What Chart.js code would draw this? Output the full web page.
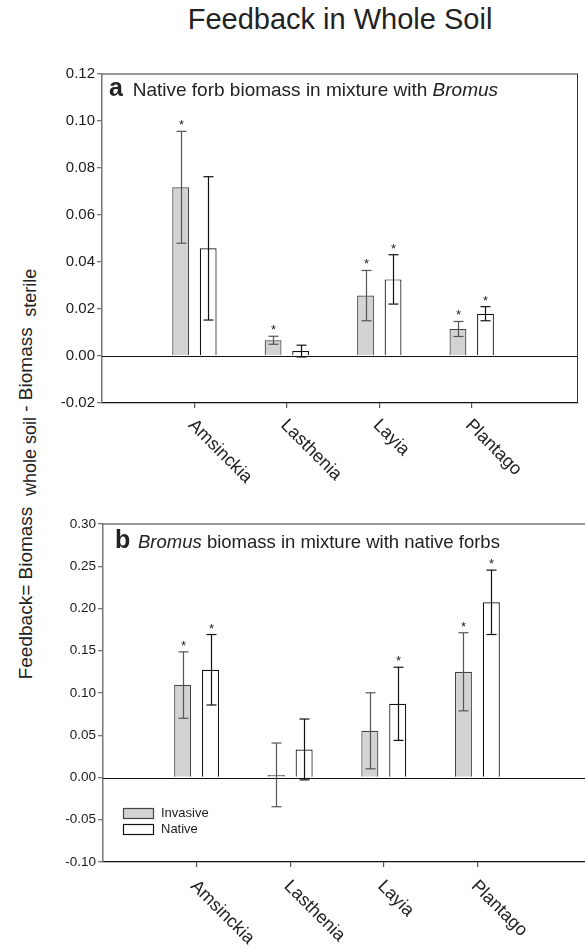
<!DOCTYPE html>
<html>
<head>
<meta charset="utf-8">
<script src="https://cdn.jsdelivr.net/npm/chart.js@4.4.0/dist/chart.umd.min.js"></script>
<style>
  html, body { margin: 0; padding: 0; background: #fff; overflow: hidden; }
  body { width: 585px; height: 949px; position: relative; font-family: "Liberation Sans", Arial, sans-serif; color: #222; }
  #title { position: absolute; left: 140px; width: 400px; top: 3px; text-align: center; font-size: 29px; white-space: nowrap; }
  #ytitle { position: absolute; left: -224px; top: 462px; width: 500px; height: 24px; line-height: 24px;
            text-align: center; font-size: 19px; white-space: nowrap; transform: rotate(-90deg); }
  #ytitle span { position: relative; top: 4px; font-size: 18px; }
  .panel { position: absolute; left: 0; }
</style>
</head>
<body>
<div id="title">Feedback in Whole Soil</div>
<div id="ytitle">Feedback= Biomass&nbsp;&nbsp;<span>whole soil</span> - Biomass&nbsp;&nbsp;<span>sterile</span></div>
<canvas id="panelA" class="panel" style="top:0" width="585" height="500"></canvas>
<canvas id="panelB" class="panel" style="top:500px" width="585" height="449"></canvas>
<script>
// plant species on the x axis
const categories = ['Amsinckia', 'Lasthenia', 'Layia', 'Plantago'];

// panel a: native forb biomass in mixture with Bromus
const forbInvasive = [0.0718, 0.0067, 0.0257, 0.0115];
const forbInvasiveErr = [0.0238, 0.0017, 0.0107, 0.0032];
const forbInvasiveSig = [true, true, true, true];
const forbNative = [0.0458, 0.0021, 0.0326, 0.0180];
const forbNativeErr = [0.0305, 0.0025, 0.0105, 0.0030];
const forbNativeSig = [false, false, true, true];
const forbTicks = [-0.02, 0.00, 0.02, 0.04, 0.06, 0.08, 0.10, 0.12];

// panel b: Bromus biomass in mixture with native forbs
const bromusInvasive = [0.1094, 0.0031, 0.0553, 0.1251];
const bromusInvasiveErr = [0.0393, 0.0377, 0.0450, 0.0462];
const bromusInvasiveSig = [true, false, false, true];
const bromusNative = [0.1275, 0.0332, 0.0872, 0.2073];
const bromusNativeErr = [0.0417, 0.0360, 0.0433, 0.0381];
const bromusNativeSig = [true, false, true, true];
const bromusTicks = [-0.10, -0.05, 0.00, 0.05, 0.10, 0.15, 0.20, 0.25, 0.30];

Chart.defaults.font.family = '"Liberation Sans", Arial, sans-serif';
Chart.defaults.color = '#222';

function strokeLine(ctx, x1, y1, x2, y2) {
  ctx.beginPath();
  ctx.moveTo(x1, y1);
  ctx.lineTo(x2, y2);
  ctx.stroke();
}

// zero line, frame, error bars, stars, rotated labels, panel caption, legend
const panelDecor = {
  id: 'panelDecor',
  afterDatasetsDraw(chart, args, opts) {
    const { ctx, chartArea: a, scales: { y } } = chart;
    ctx.save();
    const y0 = Math.round(y.getPixelForValue(0)) + 0.5;
    ctx.strokeStyle = '#111';
    ctx.lineWidth = 1.2;
    strokeLine(ctx, a.left, y0, a.right, y0);

    ctx.strokeStyle = '#777';
    ctx.lineWidth = 1.5;
    strokeLine(ctx, a.left, a.top, a.right, a.top);
    if (opts.rightBorder) {
      ctx.strokeStyle = '#333';
      ctx.lineWidth = 1;
      strokeLine(ctx, a.right - 0.5, a.top, a.right - 0.5, a.bottom);
    }

    chart.data.datasets.forEach((ds, di) => {
      const meta = chart.getDatasetMeta(di);
      meta.data.forEach((bar, i) => {
        const v = ds.data[i].y;
        const e = ds.errors[i];
        const cx = Math.round(bar.x) + 0.5;
        const yt = y.getPixelForValue(v + e);
        const yb = y.getPixelForValue(v - e);
        ctx.strokeStyle = ds.errColor;
        ctx.lineWidth = 1.2;
        strokeLine(ctx, cx, yt, cx, yb);
        strokeLine(ctx, cx - 5, yt, cx + 5, yt);
        strokeLine(ctx, cx - 5, yb, cx + 5, yb);
        if (ds.sig[i]) {
          ctx.fillStyle = '#222';
          ctx.font = '13px "Liberation Sans", Arial, sans-serif';
          ctx.textAlign = 'center';
          ctx.textBaseline = 'alphabetic';
          ctx.fillText('*', cx, yt - 2);
        }
      });
    });
    ctx.restore();
  },
  afterDraw(chart, args, opts) {
    const { ctx, chartArea: a, scales: { x } } = chart;
    ctx.save();
    ctx.fillStyle = '#222';

    // category labels, running down to the right
    ctx.font = opts.labelSize + 'px "Liberation Sans", Arial, sans-serif';
    ctx.textAlign = 'left';
    ctx.textBaseline = 'top';
    categories.forEach((c, i) => {
      ctx.save();
      ctx.translate(x.getPixelForValue(i + 1) + 3, a.bottom + opts.labelDy);
      ctx.rotate(45 * Math.PI / 180);
      ctx.fillText(c, 0, 0);
      ctx.restore();
    });

    // panel caption
    ctx.textBaseline = 'alphabetic';
    ctx.font = 'bold 25px "Liberation Sans", Arial, sans-serif';
    ctx.fillText(opts.letter, a.left + opts.capDx, a.top + opts.capDy);
    let cx = a.left + opts.textDx;
    opts.caption.forEach(seg => {
      ctx.font = (seg.italic ? 'italic ' : '') + opts.capSize + 'px "Liberation Sans", Arial, sans-serif';
      ctx.fillText(seg.text, cx, a.top + opts.capDy);
      cx += ctx.measureText(seg.text).width;
    });

    // legend
    if (opts.legend) {
      ctx.font = '13px "Liberation Sans", Arial, sans-serif';
      ctx.textBaseline = 'middle';
      chart.data.datasets.forEach((ds, di) => {
        const bx = a.left + 20;
        const by = a.bottom - 54 + di * 16;
        ctx.fillStyle = ds.backgroundColor;
        ctx.fillRect(bx, by, 30, 10);
        ctx.strokeStyle = ds.borderColor;
        ctx.lineWidth = 1.2;
        ctx.strokeRect(bx + 0.5, by + 0.5, 30, 10);
        ctx.fillStyle = '#222';
        ctx.fillText(ds.label, bx + 38, by + 5.5);
      });
    }
    ctx.restore();
  }
};

function makePanel(el, p) {
  const toPoints = arr => arr.map((v, i) => ({ x: i + 1, y: v }));
  return new Chart(document.getElementById(el), {
    type: 'bar',
    data: {
      datasets: [{
        label: 'Invasive',
        data: toPoints(p.invasive),
        errors: p.invasiveErr,
        sig: p.invasiveSig,
        errColor: '#555',
        backgroundColor: '#d3d3d3',
        borderColor: '#444',
        borderWidth: 1.2,
        categoryPercentage: 0.596,
        barPercentage: 0.61
      }, {
        label: 'Native',
        data: toPoints(p.native),
        errors: p.nativeErr,
        sig: p.nativeSig,
        errColor: '#111',
        backgroundColor: '#ffffff',
        borderColor: '#111',
        borderWidth: 1.2,
        categoryPercentage: 0.596,
        barPercentage: 0.61
      }]
    },
    options: {
      responsive: false,
      animation: false,
      layout: { padding: { top: p.padTop, right: p.padRight, left: 0, bottom: 0 } },
      plugins: {
        legend: { display: false },
        tooltip: { enabled: false },
        panelDecor: p.decor
      },
      scales: {
        x: {
          type: 'linear',
          offset: false,
          min: 0,
          max: 5.15,
          afterBuildTicks: s => { s.ticks = categories.map((c, i) => ({ value: i + 1 })); },
          afterFit: s => { s.height = p.xHeight; },
          ticks: { display: false },
          grid: { display: true, offset: false, drawOnChartArea: false, tickLength: 5, color: '#555', lineWidth: 1.2 },
          border: { display: true, color: '#111', width: 1.3 }
        },
        y: {
          min: p.yTicks[0],
          max: p.yTicks[p.yTicks.length - 1],
          afterBuildTicks: s => { s.ticks = p.yTicks.map(v => ({ value: v })); },
          afterFit: s => { s.width = p.yWidth; },
          ticks: {
            callback: v => Number(v).toFixed(2),
            font: { size: p.tickSize },
            color: '#1a1a1a',
            padding: 2
          },
          grid: { display: true, drawOnChartArea: false, tickLength: 5, color: '#777', lineWidth: 1.3 },
          border: { display: true, color: '#777', width: 1.5 }
        }
      }
    },
    plugins: [panelDecor]
  });
}

makePanel('panelA', {
  invasive: forbInvasive, invasiveErr: forbInvasiveErr, invasiveSig: forbInvasiveSig,
  native: forbNative, nativeErr: forbNativeErr, nativeSig: forbNativeSig,
  yTicks: forbTicks, padTop: 74, padRight: 7, yWidth: 102, xHeight: 97, tickSize: 15,
  decor: {
    rightBorder: true, legend: false, labelSize: 18, labelDy: 13,
    letter: 'a', capDx: 7, capDy: 22, textDx: 30.7, capSize: 19,
    caption: [{ text: 'Native forb biomass in mixture with ' }, { text: 'Bromus', italic: true }]
  }
});

makePanel('panelB', {
  invasive: bromusInvasive, invasiveErr: bromusInvasiveErr, invasiveSig: bromusInvasiveSig,
  native: bromusNative, nativeErr: bromusNativeErr, nativeSig: bromusNativeSig,
  yTicks: bromusTicks, padTop: 24, padRight: 0, yWidth: 103, xHeight: 87, tickSize: 13.5,
  decor: {
    rightBorder: false, legend: true, labelSize: 18, labelDy: 15,
    letter: 'b', capDx: 12, capDy: 23.5, textDx: 35, capSize: 18.5,
    caption: [{ text: 'Bromus', italic: true }, { text: ' biomass in mixture with native forbs' }]
  }
});
</script>
</body>
</html>
